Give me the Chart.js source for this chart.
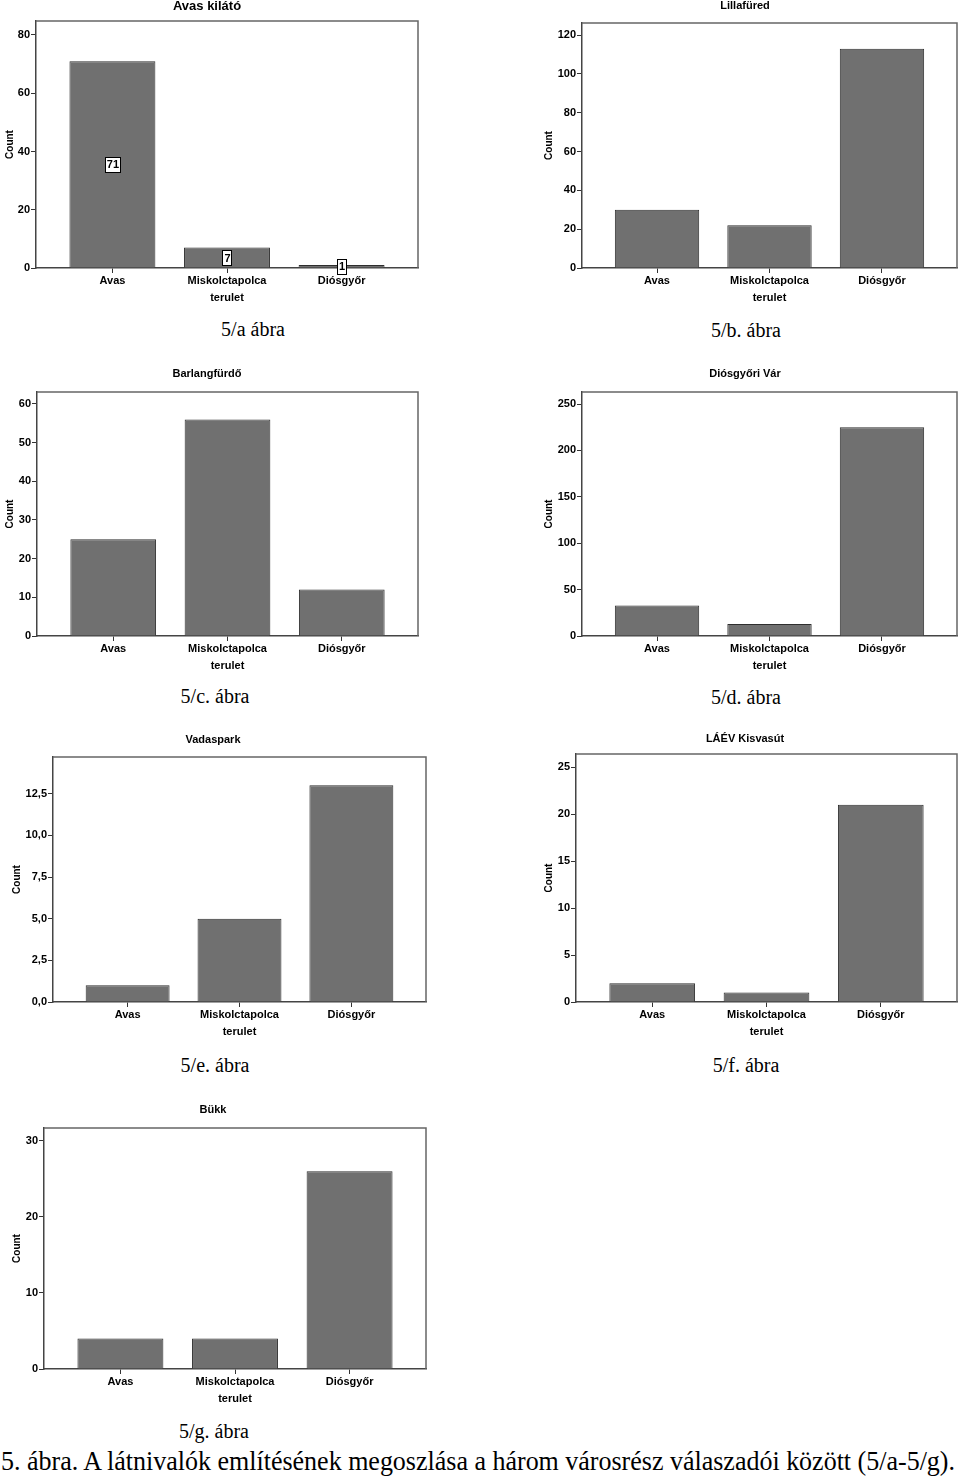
<!DOCTYPE html>
<html>
<head>
<meta charset="utf-8">
<script src="https://cdn.jsdelivr.net/npm/chart.js@4/dist/chart.umd.min.js"></script>
<style>
  html, body { margin: 0; padding: 0; background: #fff; }
  body { width: 960px; height: 1478px; position: relative; overflow: hidden; }
  canvas.panel { position: absolute; }
  .cap { position: absolute; font-family: "Liberation Serif", "Times New Roman", serif; font-size: 20px; line-height: 1; color: #000; white-space: nowrap; transform: translate(-50%, -50%); }
  #mainCap { position: absolute; left: 1px; font-family: "Liberation Serif", "Times New Roman", serif; font-size: 27px; line-height: 1; color: #000; white-space: nowrap; transform-origin: 0 50%; }
</style>
</head>
<body>
<div id="mainCap">5. ábra. A látnivalók említésének megoszlása a három városrész válaszadói között (5/a-5/g).</div>
<script>
// ---------- data ----------
const categories = ['Avas', 'Miskolctapolca', 'Diósgyőr'];
const xAxisTitle = 'terulet';
const yAxisTitle = 'Count';

const avasKilatoCounts   = [71, 7, 1];
const lillafuredCounts   = [30, 22, 113];
const barlangfurdoCounts = [25, 56, 12];
const diosgyoriVarCounts = [33, 13, 225];
const vadaparkCounts     = [1, 5, 13];
const laevKisvasutCounts = [2, 1, 21];
const bukkCounts         = [4, 4, 26];

const avasKilatoTicks   = [0, 20, 40, 60, 80];
const lillafuredTicks   = [0, 20, 40, 60, 80, 100, 120];
const barlangfurdoTicks = [0, 10, 20, 30, 40, 50, 60];
const diosgyoriVarTicks = [0, 50, 100, 150, 200, 250];
const vadaparkTicks     = [0, 2.5, 5, 7.5, 10, 12.5];
const laevKisvasutTicks = [0, 5, 10, 15, 20, 25];
const bukkTicks         = [0, 10, 20, 30];

// ---------- layout table (positions / styles only) ----------
const panels = [
  { title: 'Avas kilátó', values: avasKilatoCounts, ticks: avasKilatoTicks, yMax: 84.8, decimals: 0, showValues: true,
    canvas: [0, 0, 440], box: [36, 21, 418, 268], titleAt: [207, 6], titleSize: 13, countX: 10, caption: '5/a ábra', captionAt: [253, 329] },
  { title: 'Lillafüred', values: lillafuredCounts, ticks: lillafuredTicks, yMax: 126.2, decimals: 0,
    canvas: [530, 0, 430], box: [582, 23, 957, 268], titleAt: [745, 6], titleSize: 11, countX: 549, caption: '5/b. ábra', captionAt: [746, 330] },
  { title: 'Barlangfürdő', values: barlangfurdoCounts, ticks: barlangfurdoTicks, yMax: 63.1, decimals: 0,
    canvas: [0, 360, 440], box: [37, 392, 418, 636], titleAt: [207, 374], titleSize: 11, countX: 10, caption: '5/c. ábra', captionAt: [215, 696] },
  { title: 'Diósgyőri Vár', values: diosgyoriVarCounts, ticks: diosgyoriVarTicks, yMax: 263, decimals: 0,
    canvas: [530, 360, 430], box: [582, 392, 957, 636], titleAt: [745, 374], titleSize: 11, countX: 549, caption: '5/d. ábra', captionAt: [746, 697] },
  { title: 'Vadaspark', values: vadaparkCounts, ticks: vadaparkTicks, yMax: 14.7, decimals: 1,
    canvas: [0, 728, 440], box: [53, 757, 426, 1002], titleAt: [213, 740], titleSize: 11, countX: 17, caption: '5/e. ábra', captionAt: [215, 1065] },
  { title: 'LÁÉV Kisvasút', values: laevKisvasutCounts, ticks: laevKisvasutTicks, yMax: 26.4, decimals: 0,
    canvas: [530, 728, 430], box: [576, 754, 957, 1002], titleAt: [745, 739], titleSize: 11, countX: 549, caption: '5/f. ábra', captionAt: [746, 1065] },
  { title: 'Bükk', values: bukkCounts, ticks: bukkTicks, yMax: 31.7, decimals: 0,
    canvas: [0, 1098, 440], box: [44, 1128, 426, 1369], titleAt: [213, 1110], titleSize: 11, countX: 17, caption: '5/g. ábra', captionAt: [214, 1431] }
];

const FONT = "'Liberation Sans', Arial, Helvetica, sans-serif";
Chart.defaults.font.family = FONT;
Chart.defaults.color = '#000';

const BELOW = 40; // canvas extends this far below the plot box

const spssPlugin = {
  id: 'spss',
  beforeDatasetsDraw(chart, args, opts) {
    const { ctx, chartArea: a } = chart;
    ctx.save();
    ctx.strokeStyle = '#666';
    ctx.lineWidth = 1.5;
    ctx.beginPath();
    ctx.moveTo(a.left, a.top);
    ctx.lineTo(a.right, a.top);
    ctx.lineTo(a.right, a.bottom);
    ctx.stroke();
    ctx.restore();
  },
  afterDraw(chart, args, opts) {
    const { ctx } = chart;
    ctx.save();
    ctx.fillStyle = '#000';
    ctx.font = 'bold ' + opts.titleSize + 'px ' + FONT;
    ctx.textAlign = 'center';
    ctx.textBaseline = 'middle';
    ctx.fillText(opts.title, opts.titleX, opts.titleY);
    if (opts.showValues) {
      const meta = chart.getDatasetMeta(0);
      const vals = chart.data.datasets[0].data;
      ctx.font = 'bold 11px ' + FONT;
      meta.data.forEach((bar, i) => {
        const txt = String(vals[i].y);
        const w = ctx.measureText(txt).width + 3;
        const h = 15;
        const cx = bar.x;
        const cy = (bar.y + bar.base) / 2;
        ctx.fillStyle = '#fff';
        ctx.fillRect(Math.round(cx - w / 2) + 0.5, Math.round(cy - h / 2) + 0.5, Math.round(w), h);
        ctx.strokeStyle = '#000';
        ctx.lineWidth = 1;
        ctx.strokeRect(Math.round(cx - w / 2) + 0.5, Math.round(cy - h / 2) + 0.5, Math.round(w), h);
        ctx.fillStyle = '#000';
        ctx.fillText(txt, cx + 0.5, cy + 1);
      });
    }
    ctx.restore();
  }
};

panels.forEach((p) => {
  const [cx, cy, cw] = p.canvas;
  const [bl, bt, br, bb] = p.box;
  const ch = bb + BELOW - cy;
  const cv = document.createElement('canvas');
  cv.className = 'panel';
  cv.width = cw; cv.height = ch;
  cv.style.left = cx + 'px'; cv.style.top = cy + 'px';
  cv.style.width = cw + 'px'; cv.style.height = ch + 'px';
  document.body.appendChild(cv);

  const cap = document.createElement('div');
  cap.className = 'cap';
  cap.textContent = p.caption;
  cap.style.left = p.captionAt[0] + 'px';
  cap.style.top = p.captionAt[1] + 'px';
  document.body.appendChild(cap);

  const yWidth = bl - cx;
  const fmt = (v) => p.decimals ? Number(v).toFixed(p.decimals).replace('.', ',') : String(v);

  new Chart(cv, {
    type: 'bar',
    data: {
      datasets: [{
        data: p.values.map((v, i) => ({ x: i, y: v })),
        backgroundColor: '#707070',
        borderColor: '#2e2e2e',
        borderWidth: 1,
        categoryPercentage: 1,
        barPercentage: 0.75
      }]
    },
    options: {
      responsive: false,
      animation: false,
      devicePixelRatio: 1,
      layout: { padding: { left: 0, top: bt - cy, right: (cx + cw) - br, bottom: 0 } },
      plugins: {
        legend: { display: false },
        tooltip: { enabled: false },
        spss: {
          title: p.title, titleSize: p.titleSize,
          titleX: p.titleAt[0] - cx, titleY: p.titleAt[1] - cy,
          showValues: !!p.showValues
        }
      },
      scales: {
        x: {
          type: 'linear',
          min: -0.667,
          max: 2.667,
          offset: false,
          grid: { display: true, drawOnChartArea: false, drawTicks: true, tickLength: 5, color: '#333', offset: false },
          border: { display: true, color: '#444', width: 1.5 },
          ticks: {
            autoSkip: false, maxRotation: 0, minRotation: 0, padding: 1,
            font: { size: 11, weight: 'bold' }, color: '#000',
            callback: (v) => categories[Math.round(v)]
          },
          afterBuildTicks: (s) => { s.ticks = categories.map((_, i) => ({ value: i })); },
          afterFit: (s) => { s.height = BELOW; },
          title: {
            display: true, text: xAxisTitle, color: '#000',
            font: { size: 11, weight: 'bold', lineHeight: 1.2 },
            padding: { top: 0, bottom: BELOW - 29.5 - 6.6 }
          }
        },
        y: {
          type: 'linear',
          min: 0,
          max: p.yMax,
          grid: { display: true, drawOnChartArea: false, drawTicks: true, tickLength: 5, color: '#333' },
          border: { display: true, color: '#444', width: 1.5 },
          ticks: {
            padding: 1, font: { size: 11, weight: 'bold' }, color: '#000',
            callback: (v) => fmt(v)
          },
          afterBuildTicks: (s) => { s.ticks = p.ticks.map((v) => ({ value: v })); },
          afterFit: (s) => { s.width = yWidth; },
          title: {
            display: true, text: yAxisTitle, color: '#000',
            font: { size: 10, weight: 'bold', lineHeight: 1 },
            padding: { top: p.countX - cx - 5, bottom: 0 }
          }
        }
      }
    },
    plugins: [spssPlugin]
  });
});

// main caption: fit across the page width, centred on y ≈ 1461
const mc = document.getElementById('mainCap');
const w = mc.getBoundingClientRect().width;
const h = mc.getBoundingClientRect().height;
mc.style.top = (1461 - h / 2) + 'px';
mc.style.transform = 'scaleX(' + (954 / w) + ')';
</script>
</body>
</html>
